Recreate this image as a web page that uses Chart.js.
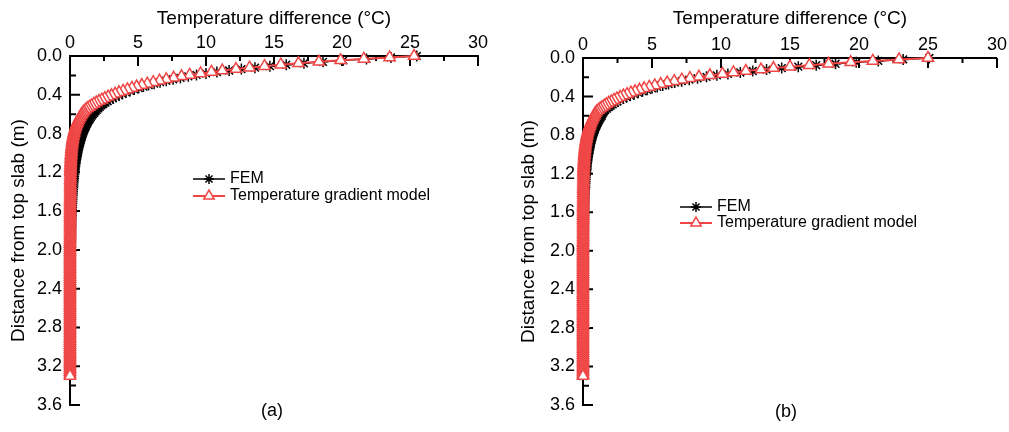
<!DOCTYPE html>
<html>
<head>
<meta charset="utf-8">
<script src="https://cdn.jsdelivr.net/npm/chart.js@4.4.1/dist/chart.umd.min.js"></script>
<style>
  html, body { margin: 0; padding: 0; background: #fff; }
  #wrap { position: relative; width: 1009px; height: 432px; }
  canvas { position: absolute; top: 0; }
  #chartA { left: 0; }
  #chartB { left: 505px; }
</style>
</head>
<body>
<div id="wrap">
  <canvas id="chartA" width="505" height="432"></canvas>
  <canvas id="chartB" width="504" height="432"></canvas>
</div>
<script>
// depth below top slab (m), shared by every series
const depth = [
  0, 0.015, 0.03, 0.045, 0.06, 0.075, 0.09, 0.105, 0.12, 0.135,
  0.15, 0.165, 0.18, 0.195, 0.21, 0.225, 0.24, 0.255, 0.27, 0.285,
  0.3, 0.315, 0.33, 0.345, 0.36, 0.375, 0.39, 0.405, 0.42, 0.435,
  0.45, 0.465, 0.48, 0.495, 0.51, 0.525, 0.54, 0.555, 0.57, 0.585,
  0.6, 0.615, 0.63, 0.645, 0.66, 0.675, 0.69, 0.705, 0.72, 0.735,
  0.75, 0.765, 0.78, 0.795, 0.81, 0.825, 0.84, 0.855, 0.87, 0.885,
  0.9, 0.915, 0.93, 0.945, 0.96, 0.975, 0.99, 1.005, 1.02, 1.035,
  1.05, 1.065, 1.08, 1.095, 1.11, 1.125, 1.14, 1.155, 1.17, 1.185,
  1.2,
  1.22, 1.24, 1.26, 1.28, 1.3, 1.32, 1.34, 1.36, 1.38, 1.4,
  1.42, 1.44, 1.46, 1.48, 1.5, 1.52, 1.54, 1.56, 1.58, 1.6,
  1.62, 1.64, 1.66, 1.68, 1.7, 1.72, 1.74, 1.76, 1.78, 1.8,
  1.82, 1.84, 1.86, 1.88, 1.9, 1.92, 1.94, 1.96, 1.98, 2.0,
  2.02, 2.04, 2.06, 2.08, 2.1, 2.12, 2.14, 2.16, 2.18, 2.2,
  2.22, 2.24, 2.26, 2.28, 2.3, 2.32, 2.34, 2.36, 2.38, 2.4,
  2.42, 2.44, 2.46, 2.48, 2.5, 2.52, 2.54, 2.56, 2.58, 2.6,
  2.62, 2.64, 2.66, 2.68, 2.7, 2.72, 2.74, 2.76, 2.78, 2.8,
  2.82, 2.84, 2.86, 2.88, 2.9, 2.92, 2.94, 2.96, 2.98, 3.0,
  3.02, 3.04, 3.06, 3.08, 3.1, 3.12, 3.14, 3.16, 3.18, 3.2,
  3.22, 3.24, 3.26, 3.28, 3.3
];

// panel (a) temperature differences (°C)
const femA = [
  25.5, 23.6, 21.8, 20.1, 18.6, 17.2, 15.9, 14.7, 13.6, 12.6,
  11.7, 10.8, 10.0, 9.3, 8.7, 8.12, 7.58, 7.08, 6.62, 6.18,
  5.78, 5.4, 5.05, 4.72, 4.41, 4.12, 3.85, 3.6, 3.37, 3.15,
  2.95, 2.77, 2.6, 2.44, 2.31, 2.19, 2.08, 1.97, 1.87, 1.78,
  1.69, 1.61, 1.53, 1.46, 1.39, 1.33, 1.27, 1.21, 1.16, 1.11,
  1.06, 1.01, 0.97, 0.93, 0.89, 0.85, 0.81, 0.78, 0.75, 0.72,
  0.69, 0.66, 0.63, 0.6, 0.58, 0.55, 0.53, 0.51, 0.49, 0.47,
  0.45, 0.43, 0.41, 0.39, 0.38, 0.36, 0.35, 0.33, 0.32, 0.31,
  0.3,
  0.29, 0.27, 0.26, 0.25, 0.24, 0.22, 0.21, 0.2, 0.19, 0.18,
  0.17, 0.16, 0.15, 0.15, 0.14, 0.13, 0.13, 0.12, 0.11, 0.11,
  0.1, 0.1, 0.09, 0.09, 0.08, 0.08, 0.07, 0.07, 0.07, 0.06,
  0.06, 0.06, 0.05, 0.05, 0.05, 0.05, 0.04, 0.04, 0.04, 0.04,
  0.04, 0.04, 0.03, 0.03, 0.03, 0.03, 0.03, 0.03, 0.02, 0.02,
  0.02, 0.02, 0.02, 0.02, 0.02, 0.02, 0.02, 0.02, 0.02, 0.02,
  0.02, 0.02, 0.01, 0.01, 0.01, 0.01, 0.01, 0.01, 0.01, 0.01,
  0.01, 0.01, 0.01, 0.01, 0.01, 0.01, 0.01, 0.01, 0.01, 0.01,
  0.01, 0.01, 0.01, 0.01, 0.01, 0, 0, 0, 0, 0,
  0, 0, 0, 0, 0, 0, 0, 0, 0, 0,
  0, 0, 0, 0, 0
];
const modelA = [
  25.3, 23.5, 21.6, 19.9, 18.3, 16.8, 15.5, 14.3, 13.2, 12.2,
  11.2, 10.4, 9.6, 8.8, 8.2, 7.62, 7.08, 6.58, 6.12, 5.68,
  5.28, 4.9, 4.55, 4.22, 3.9, 3.6, 3.32, 3.05, 2.8, 2.56,
  2.34, 2.13, 1.93, 1.75, 1.58, 1.42, 1.28, 1.15, 1.03, 0.95,
  0.87, 0.8, 0.74, 0.68, 0.62, 0.57, 0.52, 0.48, 0.44, 0.4,
  0.37, 0.34, 0.31, 0.29, 0.26, 0.24, 0.22, 0.2, 0.19, 0.17,
  0.16, 0.15, 0.13, 0.12, 0.11, 0.1, 0.1, 0.09, 0.08, 0.07,
  0.07, 0.06, 0.06, 0.05, 0.05, 0.04, 0.04, 0.04, 0.03, 0.03,
  0.03,
  0.03, 0.03, 0.03, 0.02, 0.02, 0.02, 0.02, 0.02, 0.02, 0.02,
  0.02, 0.02, 0.02, 0.01, 0.01, 0.01, 0.01, 0.01, 0.01, 0.01,
  0.01, 0.01, 0.01, 0.01, 0.01, 0.01, 0.01, 0.01, 0.01, 0.01,
  0.01, 0.01, 0.01, 0, 0, 0, 0, 0, 0, 0,
  0, 0, 0, 0, 0, 0, 0, 0, 0, 0,
  0, 0, 0, 0, 0, 0, 0, 0, 0, 0,
  0, 0, 0, 0, 0, 0, 0, 0, 0, 0,
  0, 0, 0, 0, 0, 0, 0, 0, 0, 0,
  0, 0, 0, 0, 0, 0, 0, 0, 0, 0,
  0, 0, 0, 0, 0, 0, 0, 0, 0, 0,
  0, 0, 0, 0, 0
];

// panel (b)
const femB = [
  25.1, 23.2, 21.4, 19.8, 18.3, 16.9, 15.6, 14.4, 13.3, 12.3,
  11.4, 10.5, 9.7, 8.95, 8.3, 7.7, 7.15, 6.65, 6.2, 5.78,
  5.38, 5.0, 4.65, 4.32, 4.0, 3.7, 3.42, 3.16, 2.92, 2.7,
  2.5, 2.32, 2.15, 2.0, 1.86, 1.73, 1.61, 1.5, 1.42, 1.38,
  1.35, 1.28, 1.21, 1.15, 1.09, 1.04, 0.99, 0.94, 0.89, 0.85,
  0.81, 0.77, 0.73, 0.7, 0.66, 0.63, 0.6, 0.57, 0.54, 0.52,
  0.49, 0.47, 0.45, 0.43, 0.41, 0.39, 0.37, 0.35, 0.33, 0.32,
  0.3, 0.29, 0.27, 0.26, 0.25, 0.24, 0.23, 0.22, 0.21, 0.2,
  0.19,
  0.18, 0.17, 0.16, 0.15, 0.14, 0.13, 0.13, 0.12, 0.11, 0.11,
  0.1, 0.1, 0.09, 0.09, 0.08, 0.08, 0.07, 0.07, 0.07, 0.06,
  0.06, 0.06, 0.05, 0.05, 0.05, 0.05, 0.04, 0.04, 0.04, 0.04,
  0.04, 0.03, 0.03, 0.03, 0.03, 0.03, 0.03, 0.03, 0.03, 0.03,
  0.03, 0.03, 0.03, 0.02, 0.02, 0.02, 0.02, 0.02, 0.02, 0.02,
  0.02, 0.02, 0.02, 0.02, 0.02, 0.01, 0.01, 0.01, 0.01, 0.01,
  0.01, 0.01, 0.01, 0.01, 0.01, 0.01, 0.01, 0.01, 0.01, 0.01,
  0, 0, 0, 0, 0, 0, 0, 0, 0, 0,
  0, 0, 0, 0, 0, 0, 0, 0, 0, 0,
  0, 0, 0, 0, 0, 0, 0, 0, 0, 0,
  0, 0, 0, 0, 0
];
const modelB = [
  25.0, 22.9, 21.0, 19.4, 17.8, 16.4, 15.0, 13.8, 12.9, 11.8,
  10.9, 10.1, 9.2, 8.4, 7.75, 7.16, 6.61, 6.1, 5.63, 5.2,
  4.8, 4.43, 4.09, 3.77, 3.47, 3.19, 2.93, 2.69, 2.46, 2.25,
  2.05, 1.87, 1.7, 1.54, 1.39, 1.25, 1.12, 1.0, 0.9, 0.85,
  0.81, 0.75, 0.7, 0.65, 0.6, 0.56, 0.52, 0.48, 0.44, 0.41,
  0.38, 0.35, 0.32, 0.3, 0.28, 0.26, 0.24, 0.22, 0.2, 0.19,
  0.17, 0.16, 0.15, 0.14, 0.13, 0.12, 0.11, 0.1, 0.09, 0.09,
  0.08, 0.07, 0.07, 0.06, 0.06, 0.05, 0.05, 0.05, 0.04, 0.04,
  0.04,
  0.04, 0.03, 0.03, 0.03, 0.03, 0.02, 0.02, 0.02, 0.02, 0.02,
  0.02, 0.02, 0.02, 0.02, 0.02, 0.01, 0.01, 0.01, 0.01, 0.01,
  0.01, 0.01, 0.01, 0.01, 0.01, 0.01, 0.01, 0.01, 0.01, 0.01,
  0.01, 0.01, 0.01, 0.01, 0.01, 0, 0, 0, 0, 0,
  0, 0, 0, 0, 0, 0, 0, 0, 0, 0,
  0, 0, 0, 0, 0, 0, 0, 0, 0, 0,
  0, 0, 0, 0, 0, 0, 0, 0, 0, 0,
  0, 0, 0, 0, 0, 0, 0, 0, 0, 0,
  0, 0, 0, 0, 0, 0, 0, 0, 0, 0,
  0, 0, 0, 0, 0, 0, 0, 0, 0, 0,
  0, 0, 0, 0, 0
];

const xTicks = [0, 5, 10, 15, 20, 25, 30];
const xMinor = [2.5, 7.5, 12.5, 17.5, 22.5, 27.5];
const yTicks = [0, 0.4, 0.8, 1.2, 1.6, 2.0, 2.4, 2.8, 3.2, 3.6];
const yMinor = [0.2, 0.6, 1.0, 1.4, 1.8, 2.2, 2.6, 3.0, 3.4];
const seriesNames = ['FEM', 'Temperature gradient model'];
const panelLabels = ['(a)', '(b)'];

const FONT = '"Liberation Sans", Arial, sans-serif';
const RED = '#f04646';

function pts(vals) {
    return vals.map((v, i) => ({ x: v, y: depth[i] }));
}

// inward tick marks (major + minor) under the data
const tickMarks = {
    id: 'tickMarks',
    beforeDatasetsDraw(chart) {
        const { ctx, chartArea: a, scales: { x, y } } = chart;
        ctx.save();
        ctx.strokeStyle = '#000';
        ctx.lineWidth = 2;
        ctx.beginPath();
        xTicks.forEach(v => { const p = x.getPixelForValue(v); ctx.moveTo(p, a.top); ctx.lineTo(p, a.top + 10); });
        xMinor.forEach(v => { const p = x.getPixelForValue(v); ctx.moveTo(p, a.top); ctx.lineTo(p, a.top + 5); });
        yTicks.forEach(v => { const p = y.getPixelForValue(v); ctx.moveTo(a.left, p); ctx.lineTo(a.left + 10, p); });
        yMinor.forEach(v => { const p = y.getPixelForValue(v); ctx.moveTo(a.left, p); ctx.lineTo(a.left + 6, p); });
        ctx.stroke();
        ctx.restore();
    }
};

// line+marker legend and the panel tag
const legendBox = {
    id: 'legendBox',
    afterDraw(chart, args, opts) {
        const ctx = chart.ctx;
        ctx.save();
        chart.data.datasets.forEach((ds, i) => {
            const yy = opts.y + i * opts.gap;
            ctx.strokeStyle = ds.borderColor;
            ctx.lineWidth = ds.borderWidth;
            ctx.beginPath();
            ctx.moveTo(opts.x, yy);
            ctx.lineTo(opts.x + 32, yy);
            ctx.stroke();
            ctx.fillStyle = ds.pointBackgroundColor;
            ctx.strokeStyle = ds.pointBorderColor;
            ctx.lineWidth = ds.pointBorderWidth;
            Chart.helpers.drawPoint(ctx, {
                pointStyle: ds.pointStyle, radius: ds.pointRadius - 0.5,
                borderWidth: ds.pointBorderWidth, rotation: 0
            }, opts.x + 16, yy);
            ctx.fillStyle = '#000';
            ctx.font = '16px ' + FONT;
            ctx.textAlign = 'left';
            ctx.textBaseline = 'middle';
            ctx.fillText(ds.label, opts.x + 37, yy);
        });
        ctx.font = '18px ' + FONT;
        ctx.textAlign = 'center';
        ctx.textBaseline = 'middle';
        ctx.fillText(opts.tag, opts.tagX, opts.tagY);
        ctx.restore();
    }
};

function makePanel(id, fem, model, cfg) {
    return new Chart(document.getElementById(id), {
        type: 'scatter',
        data: {
            datasets: [
                {
                    label: seriesNames[0], data: pts(fem), showLine: true,
                    borderColor: '#000', borderWidth: 1.5,
                    pointStyle: 'star', pointRadius: 5.5,
                    pointBorderColor: '#000', pointBackgroundColor: '#000', pointBorderWidth: 1.5,
                    order: 2, clip: false
                },
                {
                    label: seriesNames[1], data: pts(model), showLine: true,
                    borderColor: RED, borderWidth: 2,
                    pointStyle: 'triangle', pointRadius: 6.5,
                    pointBorderColor: RED, pointBackgroundColor: '#fff', pointBorderWidth: 1.5,
                    order: 1, clip: false
                }
            ]
        },
        options: {
            responsive: false,
            animation: false,
            events: [],
            layout: { padding: { left: 0, top: 0, right: cfg.padRight, bottom: 27 } },
            plugins: {
                legend: { display: false },
                tooltip: { enabled: false },
                legendBox: cfg.legend
            },
            scales: {
                x: {
                    type: 'linear', position: 'top', min: 0, max: 30,
                    afterBuildTicks: s => { s.ticks = xTicks.map(v => ({ value: v })); },
                    afterFit: s => { s.height = cfg.top; },
                    grid: { display: false, drawTicks: false },
                    border: { color: '#000', width: 2 },
                    ticks: { color: '#000', font: { family: FONT, size: 18 }, padding: 2, maxRotation: 0 },
                    title: {
                        display: true, text: 'Temperature difference (°C)', color: '#000',
                        font: { family: FONT, size: 19 }, padding: { top: 7, bottom: 0 }
                    }
                },
                y: {
                    type: 'linear', position: 'left', reverse: true, min: 0, max: 3.6,
                    afterBuildTicks: s => { s.ticks = yTicks.map(v => ({ value: v })); },
                    afterFit: s => { s.width = cfg.left; },
                    grid: { display: false, drawTicks: false },
                    border: { color: '#000', width: 2 },
                    ticks: {
                        color: '#000', font: { family: FONT, size: 18 }, padding: 8,
                        callback: v => v.toFixed(1)
                    },
                    title: {
                        display: true, text: 'Distance from top slab (m)', color: '#000',
                        font: { family: FONT, size: 19 }, padding: { top: cfg.titlePad, bottom: 0 }
                    }
                }
            }
        },
        plugins: [tickMarks, legendBox]
    });
}

makePanel('chartA', femA, modelA, {
    left: 70, top: 56, padRight: 27, titlePad: 7,
    legend: { x: 193, y: 179, gap: 17, tag: panelLabels[0], tagX: 272, tagY: 411 }
});
makePanel('chartB', femB, modelB, {
    left: 78, top: 58, padRight: 11, titlePad: 12,
    legend: { x: 175, y: 207, gap: 16, tag: panelLabels[1], tagX: 281, tagY: 412 }
});
</script>
</body>
</html>
